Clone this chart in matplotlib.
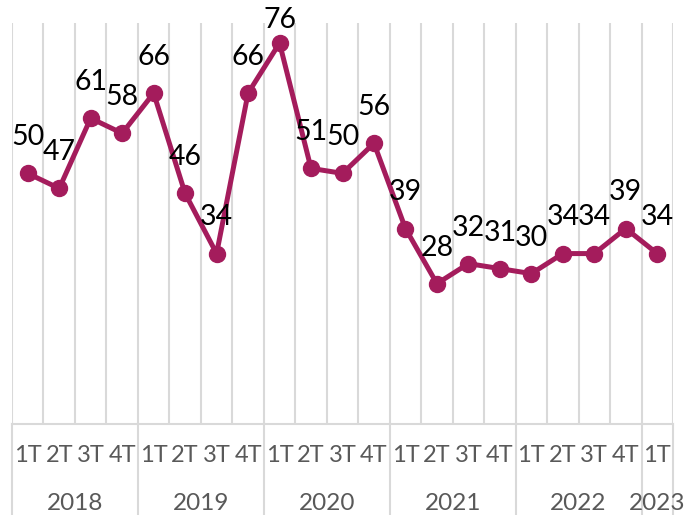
import matplotlib
matplotlib.use('Agg')
import matplotlib.pyplot as plt
import matplotlib.transforms as mtransforms

# ─── DATOS ───────────────────────────────────────────────────────────────────
anios      = ['2018', '2019', '2020', '2021', '2022', '2023']
trim_anio  = [4, 4, 4, 4, 4, 1]
trimestres = ['1T', '2T', '3T', '4T'] * 5 + ['1T']
valores    = [50, 47, 61, 58, 66, 46, 34, 66, 76, 51, 50, 56,
              39, 28, 32, 31, 30, 34, 34, 39, 34]

# ─── ESTILO ──────────────────────────────────────────────────────────────────
COLOR_LINEA = '#A41C5C'
COLOR_GRID  = '#D9D9D9'
COLOR_TEXTO = '#595959'
FUENTE      = ['Lato', 'DejaVu Sans']

W, H = 698, 515
fig = plt.figure(figsize=(W / 100, H / 100), dpi=100)
# área del gráfico en píxeles
x0, x1, y_top, y_bot = 12, 673, 23, 424
ax = fig.add_axes([x0 / W, (H - y_bot) / H, (x1 - x0) / W, (y_bot - y_top) / H])

n = len(valores)
xs = [i + 0.5 for i in range(n)]

ax.set_xlim(0, n)
ax.set_ylim(0, 80)

# líneas verticales de la cuadrícula
for i in range(n + 1):
    ax.axvline(i, color=COLOR_GRID, lw=1.5, zorder=0)
ax.axhline(0, color=COLOR_GRID, lw=1.5, zorder=0, clip_on=False)

ax.plot(xs, valores, color=COLOR_LINEA, lw=3.6, marker='o', ms=11.5,
        solid_joinstyle='round', zorder=3, clip_on=False)

# etiquetas de datos
for x, v in zip(xs, valores):
    y_lab = min(v + 7.2, 80.6)
    ax.text(x, y_lab, str(v), ha='center', va='center', fontsize=20.5,
            family=FUENTE, color='black', zorder=4)

for s in ax.spines.values():
    s.set_visible(False)
ax.set_xticks([])
ax.set_yticks([])

# eje de categorías multinivel
trans = mtransforms.blended_transform_factory(ax.transData, fig.transFigure)
y_q = (H - 456) / H
y_a = (H - 503) / H
for x, t in zip(xs, trimestres):
    ax.text(x, y_q, t, transform=trans, ha='center', va='center',
            fontsize=17, family=FUENTE, color=COLOR_TEXTO)

pos = 0
limites = [0]
for anio, k in zip(anios, trim_anio):
    ax.text(pos + k / 2, y_a, anio, transform=trans, ha='center', va='center',
            fontsize=17.5, family=FUENTE, color=COLOR_TEXTO)
    pos += k
    limites.append(pos)

for b in limites:
    ax.plot([b, b], [(H - y_bot) / H, 0], transform=trans, color=COLOR_GRID,
            lw=1.5, clip_on=False, zorder=0)

fig.savefig('out.png', dpi=100)
